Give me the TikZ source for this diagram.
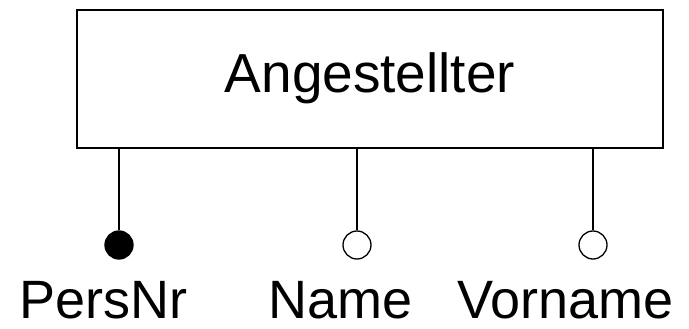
\documentclass[tikz,border=0pt]{standalone}
\usepackage{fontspec}
\setmainfont{Liberation Sans}
\begin{document}
\begin{tikzpicture}[x=1pt,y=-1pt,
  entity/.style={draw,line width=2pt,minimum width=586pt,minimum height=138pt,inner sep=0pt,
    font=\fontsize{55}{60}\selectfont,text height=39pt,text depth=11pt},
  keyattr/.style={circle,draw,fill=black,line width=1.3pt,minimum size=28pt,inner sep=0pt},
  attr/.style={circle,draw,fill=white,line width=1.3pt,minimum size=28pt,inner sep=0pt},
  conn/.style={line width=1.5pt},
  lbl/.style={anchor=base west,inner sep=0pt,text height=38pt,text depth=0pt,font=\fontsize{54}{60}\selectfont}]
\useasboundingbox (0,0) rectangle (689,329);
\node[entity] (ent) at (370,79) {Angestellter};
\node[keyattr] (a1) at (119,245) {};
\node[attr] (a2) at (357,245) {};
\node[attr] (a3) at (593,245) {};
\draw[conn] (ent.south -| a1) -- (a1.north);
\draw[conn] (ent.south -| a2) -- (a2.north);
\draw[conn] (ent.south -| a3) -- (a3.north);
\node[lbl] (l1) at (19,318) {PersNr};
\node[lbl] (l2) at (268,318) {Name};
\node[lbl] (l3) at (457,318) {Vorname};
\end{tikzpicture}
\end{document}
